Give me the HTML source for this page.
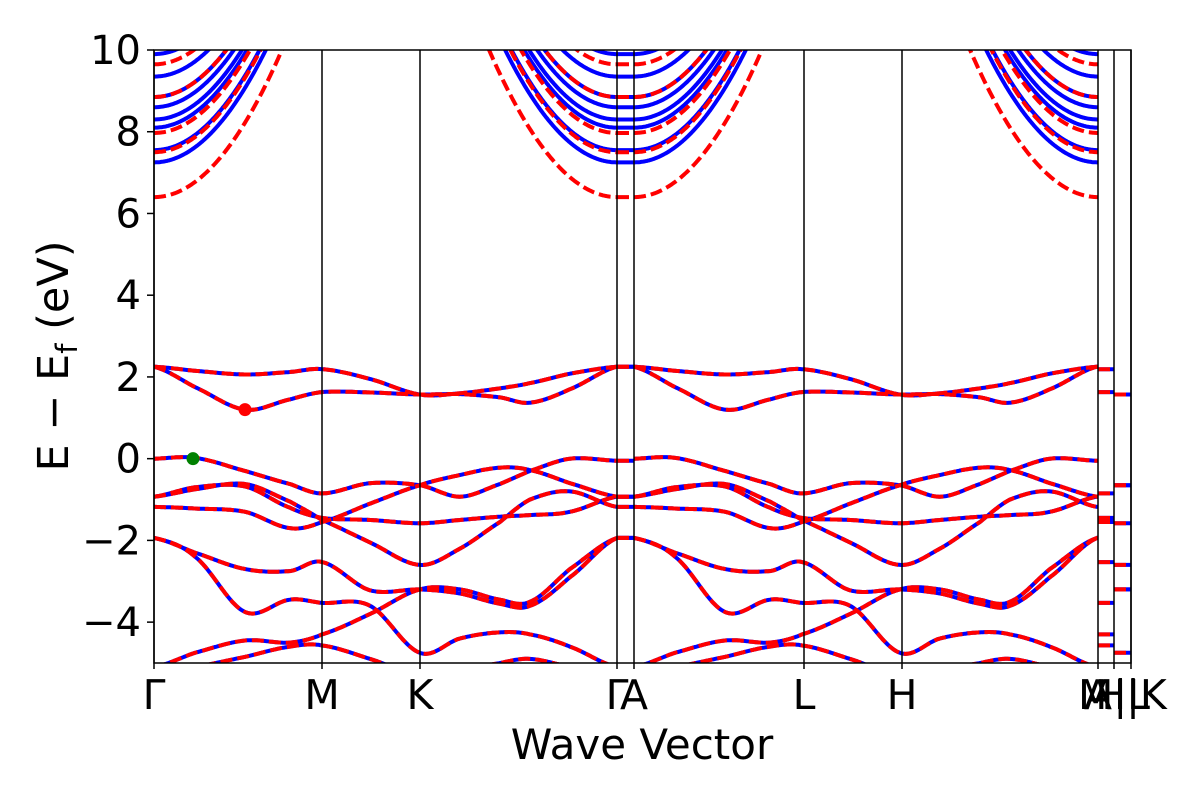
<!DOCTYPE html>
<html><head><meta charset="utf-8">
<style>
body{margin:0;background:#fff;}
svg text{font-family:"DejaVu Sans","Liberation Sans",sans-serif;fill:#000;}
</style></head>
<body>
<svg id="chart" width="1200" height="800" viewBox="0 0 1200 800">
<defs><clipPath id="plotclip"><rect x="154" y="50" width="977" height="613"/></clipPath></defs>
<rect x="0" y="0" width="1200" height="800" fill="#fff"/>
<g id="bands" clip-path="url(#plotclip)"></g>
<g id="axes"></g>
<text x="642" y="759" text-anchor="middle" font-size="42">Wave Vector</text>
<text transform="translate(68,356) rotate(-90)" text-anchor="middle" font-size="43">E − E<tspan font-size="29" dy="9">f</tspan><tspan dy="-9"> (eV)</tspan></text>
</svg>
<script>
// ---- data ----
const kPathLength = 977;
const symK = [0,168,266,463,480,650,748,944,960,977];
const symLabels = ["Γ","M","K","Γ","A","L","H","A","M|L","H|K"];
const yTicks = [-4,-2,0,2,4,6,8,10];
const yRange = [-5,10];
// sample k (Γ-M-K-Γ part)
const kSamples = [0,41,91,136,168,216,266,306,346,376,416,463];
const bandA = [2.25,2.15,2.06,2.12,2.19,1.95,1.57,1.6,1.72,1.85,2.08,2.25];
const bandB = [2.25,1.75,1.2,1.45,1.63,1.62,1.57,1.58,1.5,1.37,1.7,2.25];
const bandV1 = [0,0.02,-0.3,-0.62,-0.85,-0.6,-0.65,-0.93,-0.62,-0.3,0.0,-0.05];
const bandV2 = [-0.93,-0.75,-0.62,-1.05,-1.5,-2.05,-2.6,-2.2,-1.55,-1.0,-0.8,-1.18];
const bandV3 = [-0.93,-0.7,-0.68,-1.2,-1.45,-1.5,-1.58,-1.5,-1.42,-1.38,-1.3,-0.93];
const bandV4 = [-1.18,-1.22,-1.3,-1.7,-1.55,-1.1,-0.65,-0.4,-0.22,-0.28,-0.6,-0.93];
const bandV5 = [-1.94,-2.3,-2.7,-2.75,-2.53,-3.22,-3.2,-3.3,-3.55,-3.6,-2.9,-1.94];
const bandV6 = [-1.94,-2.4,-3.75,-3.45,-3.53,-3.6,-4.75,-4.4,-4.25,-4.3,-4.6,-5.1];
const bandV7 = [-5.1,-4.75,-4.45,-4.5,-4.3,-3.8,-3.2,-3.2,-3.45,-3.5,-2.7,-1.94];
const bandV8 = [-5.3,-5.1,-4.85,-4.6,-4.57,-4.9,-5.3,-5.2,-5.0,-4.9,-5.1,-5.3];
// conduction band minima at Γ/A and curvature (eV per k-unit^2)
const condBlue = [7.25,7.55,8.1,8.3,8.6,8.85,9.35,9.9];
const condRed = [6.4,7.5,7.97,8.85,9.65];
const condCurv = [2.2e-4];
const vbm = [39,0.0];
const cbm = [91,1.2];

// ---- axes functions ----
const X0=154, X1=1131, Y0=663, Y1=50;
const xs = k => X0 + k/kPathLength*(X1-X0);
const ys = e => Y0 - (e-yRange[0])/(yRange[1]-yRange[0])*(Y0-Y1);
const NS="http://www.w3.org/2000/svg";
const bandsG=document.getElementById('bands'), axesG=document.getElementById('axes');

function interpBand(vals,k){
  let i=0; while(i<kSamples.length-2 && k>kSamples[i+1]) i++;
  const k0=kSamples[i],k1=kSamples[i+1],t=Math.max(0,Math.min(1,(k-k0)/(k1-k0)));
  const p0=vals[Math.max(i-1,0)],p1=vals[i],p2=vals[i+1],p3=vals[Math.min(i+2,vals.length-1)];
  const t2=t*t,t3=t2*t;
  return 0.5*((2*p1)+(-p0+p2)*t+(2*p0-5*p1+4*p2-p3)*t2+(-p0+3*p1-3*p2+p3)*t3);
}
const G=symK[3], A=symK[4];
function segPath(kStart,kEnd,fn){
  let d='';
  for(let k=kStart;k<=kEnd+0.001;k+=1){ const kk=Math.min(k,kEnd); d+=(k===kStart?'M':'L')+xs(kk).toFixed(1)+','+ys(fn(kk)).toFixed(1); }
  return d;
}
function valencePath(vals){
  let d=segPath(0,G,k=>interpBand(vals,k));
  d+=segPath(G,A,()=>vals[vals.length-1]);
  d+=segPath(A,symK[7],k=>interpBand(vals,k-A));
  d+=segPath(symK[7],symK[8],()=>vals[4]);
  d+=segPath(symK[8],symK[9],()=>vals[6]);
  return d;
}
function addPath(d,color,dash,name,w){
  const p=document.createElementNS(NS,'path');
  p.setAttribute('d',d);p.setAttribute('fill','none');p.setAttribute('stroke',color);
  p.setAttribute('stroke-width',w);
  if(dash) p.setAttribute('stroke-dasharray',dash);
  
  
  bandsG.appendChild(p);
}
function condPath(e0){
  const f=d=>e0+condCurv[0]*d*d;
  let d=segPath(0,G,k=>f(Math.min(k,G-k)));
  d+=segPath(G,A,()=>e0);
  d+=segPath(A,symK[7],k=>f(Math.min(k-A,symK[7]-k)));
  return d;
}

const valence=[bandA,bandB,bandV1,bandV2,bandV3,bandV4,bandV5,bandV6,bandV7,bandV8];
valence.forEach(v=>addPath(valencePath(v),'#0000ff',null,'spin-up-band',4));
condBlue.forEach(e=>addPath(condPath(e),'#0000ff',null,'spin-up-conduction-band',4));
valence.forEach(v=>addPath(valencePath(v),'#ff0000','12 5','spin-down-band',4));
condRed.forEach(e=>addPath(condPath(e),'#ff0000','12 5','spin-down-conduction-band',4));

[[vbm,'green','vbm-marker'],[cbm,'red','cbm-marker']].forEach(([pt,c,n])=>{
  const ci=document.createElementNS(NS,'circle');
  ci.setAttribute('cx',xs(pt[0]));ci.setAttribute('cy',ys(pt[1]));ci.setAttribute('r',6.5);ci.setAttribute('fill',c);
  
  
  bandsG.appendChild(ci);
});

symK.forEach((k,i)=>{
  const l=document.createElementNS(NS,'line');
  l.setAttribute('x1',xs(k));l.setAttribute('x2',xs(k));l.setAttribute('y1',Y1);l.setAttribute('y2',Y0+6);
  l.setAttribute('stroke','#000');l.setAttribute('stroke-width',1.5);
  
  
  axesG.appendChild(l);
  const t=document.createElementNS(NS,'text');
  t.setAttribute('x',xs(k));t.setAttribute('y',709);t.setAttribute('text-anchor','middle');t.setAttribute('font-size',41);
  t.textContent=symLabels[i];
  
  
  axesG.appendChild(t);
});
const fr=document.createElementNS(NS,'rect');
fr.setAttribute('x',X0);fr.setAttribute('y',Y1);fr.setAttribute('width',X1-X0);fr.setAttribute('height',Y0-Y1);
fr.setAttribute('fill','none');fr.setAttribute('stroke','#000');fr.setAttribute('stroke-width',1.5);


axesG.appendChild(fr);
yTicks.forEach(v=>{
  const l=document.createElementNS(NS,'line');
  l.setAttribute('x1',X0-7);l.setAttribute('x2',X0);l.setAttribute('y1',ys(v));l.setAttribute('y2',ys(v));
  l.setAttribute('stroke','#000');l.setAttribute('stroke-width',1.5);
  
  
  axesG.appendChild(l);
  const t=document.createElementNS(NS,'text');
  t.setAttribute('x',X0-13);t.setAttribute('y',ys(v)+14);t.setAttribute('text-anchor','end');t.setAttribute('font-size',40);
  t.textContent=(v<0?'\u2212':'')+Math.abs(v);
  
  
  axesG.appendChild(t);
});
</script>
</body></html>
